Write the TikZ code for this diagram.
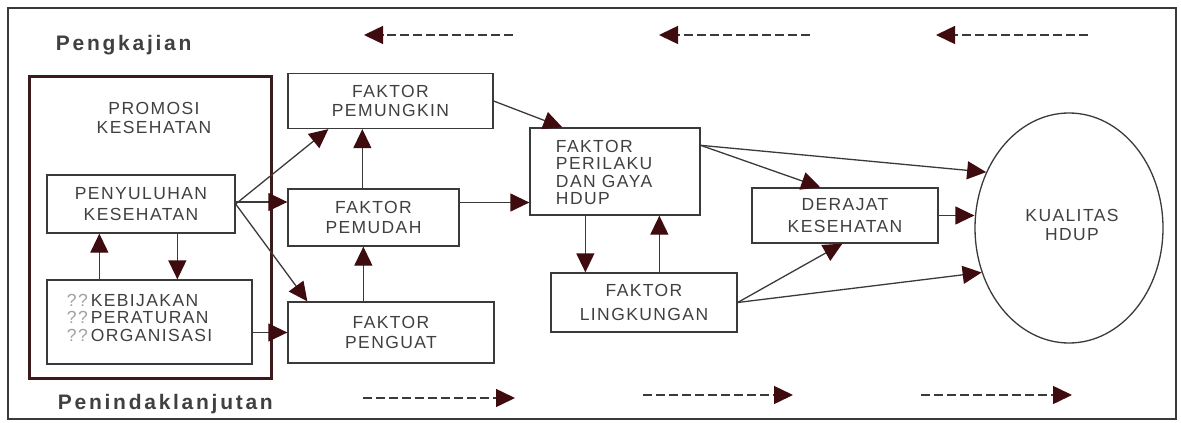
\documentclass[tikz,border=0pt]{standalone}
\usepackage{fontspec}
\setmainfont{Liberation Sans}[LetterSpace=8]
\usetikzlibrary{arrows.meta, positioning, shapes.geometric, calc}
\definecolor{cline}{HTML}{3A3A3A}
\definecolor{ctext}{HTML}{404040}
\definecolor{cmaroon}{HTML}{3E0B0E}
\definecolor{cframe}{HTML}{3B1A1C}
\definecolor{cfaint}{HTML}{A0A0A0}
\tikzset{
  every picture/.style={font=\fontsize{17.5}{19.5}\selectfont, line width=1.3pt},
  box/.style={draw=#1, align=center, inner sep=0pt, text=ctext},
  box/.default=cline,
  arrow/.style={-{Triangle[length=19pt, width=18pt, color=cmaroon]}, draw=cline, line width=1.3pt},
  dasharrow/.style={arrow, dash pattern=on 9pt off 4pt, line width=1.5pt},
  title/.style={font=\bfseries\fontsize{21}{24}\selectfont\addfontfeature{LetterSpace=13}, text=ctext},
  note/.style={align=left, text=ctext},
}

\begin{document}
\begin{tikzpicture}[x=1pt, y=-1pt]
  \useasboundingbox (0,0) rectangle (1181,423);
  \draw[cline, line width=1.8pt] (8,8) rectangle (1176,419);
  % titles
  \node[title, anchor=base west] (pengkajian) at (52,50) {Pengkajian};
  \node[title, anchor=base west] (tindak) at (54,409) {Penindaklanjutan};
  % promosi kesehatan block
  \node[box=cframe, line width=3pt, minimum width=242pt, minimum height=302pt] (pro) at (150,227) {};
  \node[text=ctext, align=center] (protxt) at (154,118) {PROMOSI\\KESEHATAN};
  \node[box, minimum width=188pt, minimum height=58pt] (pen) at (141,204) {PENYULUHAN\\[2pt]KESEHATAN};
  \node[box, minimum width=205pt, minimum height=84pt] (keb) at (149.5,322) {};
  \node[note, anchor=north west, font=\fontsize{17.5}{17.5}\selectfont] (kebtxt) at (63,290)
    {{\color{cfaint}??}\,KEBIJAKAN\\{\color{cfaint}??}\,PERATURAN\\{\color{cfaint}??}\,ORGANISASI};
  % the factors
  \node[box, minimum width=205pt, minimum height=55pt] (pmk) at (390.5,101) {FAKTOR\\PEMUNGKIN};
  \node[box, minimum width=171pt, minimum height=57pt] (pmd) at (373.5,217.5) {FAKTOR\\PEMUDAH};
  \node[box, minimum width=206pt, minimum height=61pt] (pgt) at (391,332.5) {FAKTOR\\PENGUAT};
  \node[box, minimum width=170pt, minimum height=87pt] (per) at (615,171.5) {};
  \node[note, anchor=north west, font=\fontsize{17.5}{17.5}\selectfont] (pertxt) at (552,136)
    {FAKTOR\\PERILAKU\\DAN GAYA\\HDUP};
  \node[box, minimum width=186pt, minimum height=59pt] (lin) at (644,302.5) {FAKTOR\\[4pt]LINGKUNGAN};
  \node[box, minimum width=186pt, minimum height=55pt] (der) at (845,215.5) {DERAJAT\\[2pt]KESEHATAN};
  \node[box, ellipse, minimum width=188pt, minimum height=230pt] (kua) at (1069,228) {};
  \node[text=ctext, align=center] (kuatxt) at (1072,225) {KUALITAS\\HDUP};
  % arrows out of penyuluhan
  \draw[arrow] (pen.east) -- ([xshift=41pt]pmk.south west);
  \draw[arrow] ([yshift=2pt]pen.east) -- ([yshift=2pt]pen.east -| pmd.west);
  \draw[arrow] (pen.east) -- ([xshift=20pt]pgt.north west);
  \draw[arrow] (pgt.west -| keb.east) -- (pgt.west);
  \draw[arrow] ([xshift=53pt]keb.north west) -- ([xshift=53pt]keb.north west |- pen.south);
  \draw[arrow] ([xshift=131pt]pen.south west) -- ([xshift=131pt]pen.south west |- keb.north);
  % between the factors
  \draw[arrow] ([xshift=75pt]pmd.north west) -- ([xshift=75pt]pmd.north west |- pmk.south);
  \draw[arrow] ([xshift=76pt]pgt.north west) -- ([xshift=76pt]pgt.north west |- pmd.south);
  \draw[arrow] (pmk.east) -- ([xshift=33pt]per.north west);
  \draw[arrow] ([yshift=15pt]pmd.east) -- ([yshift=15pt]pmd.east -| per.west);
  \draw[arrow] ([xshift=56pt]per.south west) -- ([xshift=56pt]per.south west |- lin.north);
  \draw[arrow] ([xshift=109pt]lin.north west) -- ([xshift=109pt]lin.north west |- per.south);
  % towards kualitas hidup
  \draw[arrow] (per.17) -- (kua.146);
  \draw[arrow] (per.17) -- ([xshift=69pt]der.north west);
  \draw[arrow] (der.east) -- (der.east -| kua.west);
  \draw[arrow] (lin.east) -- ([xshift=91pt]der.south west);
  \draw[arrow] (lin.east) -- (kua.207);
  % dashed arrows, back along the top and forward along the bottom
  \foreach \n/\xa/\xb in {1/513/364, 2/810/659, 3/1088/936} {
    \coordinate (ks\n) at (\xa,35);
    \coordinate (ke\n) at (\xb,35);
    \draw[dasharrow] (ks\n) -- (ke\n);
  }
  \foreach \n/\xa/\xb/\y in {1/363/515/398, 2/643/793/395, 3/921/1072/395} {
    \coordinate (ts\n) at (\xa,\y);
    \coordinate (te\n) at (\xb,\y);
    \draw[dasharrow] (ts\n) -- (te\n);
  }
\end{tikzpicture}
\end{document}
